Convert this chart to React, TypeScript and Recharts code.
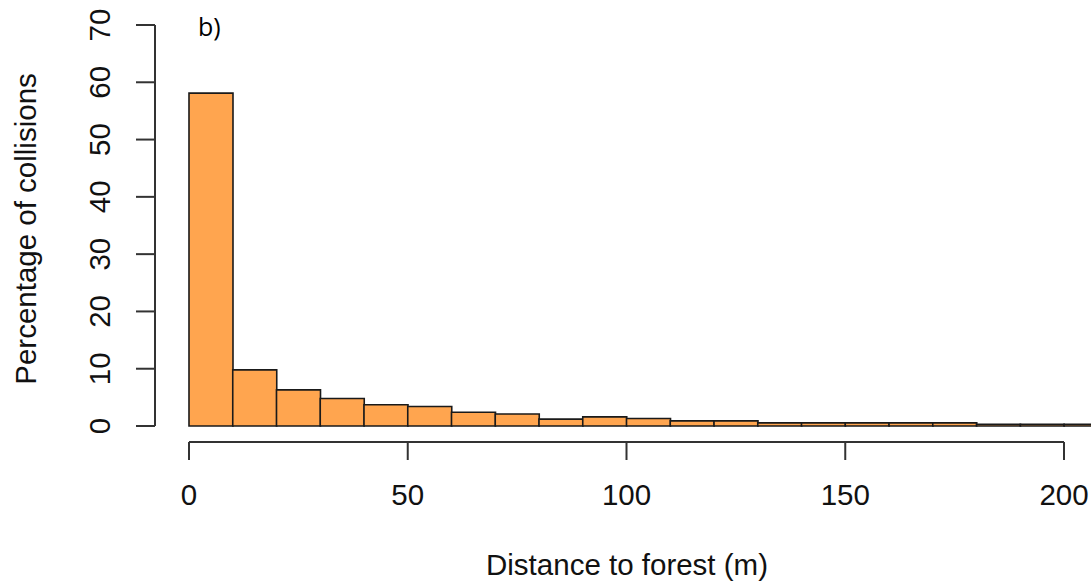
import React from "react";
import { ComposedChart, Bar, XAxis, YAxis, ReferenceLine, Label } from "recharts";

// Histogram bins (10 m wide), start of each bin
const BIN_STARTS = [0, 10, 20, 30, 40, 50, 60, 70, 80, 90, 100, 110, 120, 130, 140, 150, 160, 170, 180, 190, 200];
// Percentage of collisions per bin
const PERCENT = [58.1, 9.8, 6.3, 4.8, 3.7, 3.4, 2.4, 2.1, 1.2, 1.6, 1.3, 0.9, 0.9, 0.55, 0.55, 0.55, 0.55, 0.55, 0.3, 0.3, 0.3];
const BIN_WIDTH = 10;
const X_TICKS = [0, 50, 100, 150, 200];
const Y_TICKS = [0, 10, 20, 30, 40, 50, 60, 70];

const X_LABEL = "Distance to forest (m)";
const Y_LABEL = "Percentage of collisions";
const PANEL = "b)";

const data = BIN_STARTS.map((s, i) => ({ mid: s + BIN_WIDTH / 2, pct: PERCENT[i] }));

const FONT = '"Liberation Sans", Arial, Helvetica, sans-serif';
const TEXT = "#111111";
const LINE = "#333333";
const FILL = "#FFA54F";

const X_DOMAIN: [number, number] = [-7.77, 206.17];
const Y_DOMAIN: [number, number] = [-2.79, 72.79];

const YTick = (props: any) => {
  const { x, y, payload } = props;
  return (
    <text
      x={x}
      y={y}
      transform={`rotate(-90 ${x} ${y})`}
      textAnchor="middle"
      fontFamily={FONT}
      fontSize={29.5}
      fill={TEXT}
    >
      {payload.value}
    </text>
  );
};

export default function App() {
  return (
    <div style={{ width: 1083, height: 574, background: "#fff" }}>
      <style>{`html{overflow:hidden;} body{margin:8px 0 0 8px; overflow:visible;}`}</style>
      <ComposedChart
        width={1083}
        height={574}
        data={data}
        margin={{ top: 1, right: 0, bottom: 0, left: 0 }}
        barCategoryGap={0}
        barGap={0}
      >
        <XAxis
          dataKey="mid"
          type="number"
          domain={X_DOMAIN}
          allowDataOverflow
          ticks={X_TICKS}
          interval={0}
          axisLine={false}
          tickLine={{ stroke: LINE, strokeWidth: 2 }}
          tickSize={18}
          tickMargin={24}
          height={140}
          tick={{ fontFamily: FONT, fontSize: 29.5, fill: TEXT }}
        >
          <Label
            content={(p: any) => {
              const vb = p.viewBox || {};
              return (
                <text
                  x={vb.x + vb.width / 2 + 4}
                  y={567}
                  textAnchor="middle"
                  fontFamily={FONT}
                  fontSize={29.5}
                  fill={TEXT}
                >
                  {X_LABEL}
                </text>
              );
            }}
          />
        </XAxis>
        <YAxis
          type="number"
          domain={Y_DOMAIN}
          allowDataOverflow
          ticks={Y_TICKS}
          interval={0}
          width={147}
          axisLine={false}
          tickLine={{ stroke: LINE, strokeWidth: 2 }}
          tickSize={19}
          tickMargin={26}
          tick={<YTick />}
        >
          <Label
            content={() => (
              <g>
                <text
                  x={28}
                  y={221}
                  transform={`rotate(-90 28 221)`}
                  textAnchor="middle"
                  fontFamily={FONT}
                  fontSize={29.5}
                  fill={TEXT}
                >
                  {Y_LABEL}
                </text>
                <text
                  x={190}
                  y={28}
                  fontFamily='"Open Sans", "Noto Sans", sans-serif'
                  fontSize={25}
                  fill="#000"
                >
                  {PANEL}
                </text>
              </g>
            )}
          />
        </YAxis>
        <Bar
          dataKey="pct"
          fill={FILL}
          stroke="#1a1a1a"
          strokeWidth={1.6}
          isAnimationActive={false}
        />
        <ReferenceLine
          segment={[{ x: X_TICKS[0], y: Y_DOMAIN[0] }, { x: X_TICKS[X_TICKS.length - 1], y: Y_DOMAIN[0] }]}
          stroke={LINE}
          strokeWidth={2}
          ifOverflow="visible"
        />
        <ReferenceLine
          segment={[{ x: X_DOMAIN[0], y: Y_TICKS[0] }, { x: X_DOMAIN[0], y: Y_TICKS[Y_TICKS.length - 1] }]}
          stroke={LINE}
          strokeWidth={2}
          ifOverflow="visible"
        />
      </ComposedChart>
    </div>
  );
}
